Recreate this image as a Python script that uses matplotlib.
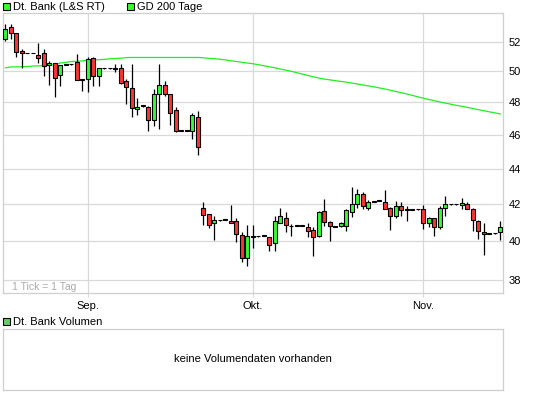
import matplotlib
matplotlib.use("Agg")
import matplotlib.pyplot as plt
import matplotlib.dates as mdates
from matplotlib.patches import Rectangle
from matplotlib.ticker import NullLocator
import numpy as np
import pandas as pd

plt.rcParams["font.family"] = ["Liberation Sans", "DejaVu Sans"]

# one candle per calendar day (weekends are the flat ones)
dates = pd.date_range("2010-08-17", "2010-11-15", freq="D")

opens = [52.21, 53.04, 52.57, 51.36, 51.22, 51.22, 51.07, 51.20, 50.42, 50.53, 49.79, 50.44, 50.46, 50.63, 49.48,
         49.48, 50.90, 49.70, 50.20, 50.20, 50.20, 50.20, 49.35, 48.94, 47.57, 47.78, 47.74, 46.93, 48.52, 49.10,
         48.51, 47.51, 46.25, 46.25, 46.21, 47.12, 41.78, 41.44, 40.96, 41.10, 41.13, 41.05, 41.05, 40.31, 39.12,
         40.22, 40.24, 40.28, 40.19, 39.87, 40.95, 41.20, 40.80, 40.80, 40.80, 40.76, 40.58, 40.28, 41.61, 41.03,
         40.76, 40.78, 40.78, 41.53, 41.97, 42.56, 41.80, 42.13, 42.17, 42.12, 41.80, 41.31, 41.90, 41.69, 41.69, 41.70,
         41.74, 40.94, 41.20, 40.73, 41.80, 41.97, 41.97, 41.96, 41.99, 41.74, 41.08, 40.46, 40.37, 40.40, 40.46]
closes = [52.90, 52.57, 51.32, 51.20, 51.22, 51.22, 50.91, 50.37, 50.53, 49.55, 50.42, 50.44, 50.46, 49.45, 49.47,
          50.84, 49.70, 50.20, 50.20, 50.20, 50.14, 49.22, 49.00, 47.68, 47.74, 47.78, 46.93, 48.52, 49.09, 48.51,
          47.36, 46.25, 46.25, 46.25, 47.20, 45.27, 41.37, 40.85, 41.10, 41.10, 41.13, 40.96, 40.37, 39.12, 40.24,
          40.20, 40.24, 40.28, 39.79, 41.05, 41.31, 40.83, 40.78, 40.80, 40.80, 40.51, 40.22, 41.58, 41.00, 40.78,
          40.76, 40.97, 41.67, 42.01, 42.56, 41.88, 42.12, 42.13, 42.17, 41.74, 41.31, 41.90, 41.67, 41.69, 41.69, 41.70,
          40.94, 41.20, 40.73, 41.80, 41.97, 41.97, 41.97, 42.06, 41.74, 41.13, 40.54, 40.35, 40.37, 40.40, 40.76]
highs = [53.24, 53.24, 52.60, 51.47, 51.24, 51.24, 51.93, 51.47, 50.71, 50.55, 50.45, 50.46, 50.48, 51.13, 49.50,
         50.93, 50.95, 50.22, 50.22, 50.22, 50.47, 50.47, 49.48, 50.47, 48.26, 47.85, 47.78, 48.83, 50.47, 49.38,
         48.55, 47.70, 46.27, 46.27, 47.33, 47.46, 42.12, 41.45, 41.31, 41.12, 41.15, 41.96, 41.20, 40.49, 40.85,
         40.87, 40.26, 40.30, 40.20, 41.31, 41.78, 41.56, 40.90, 40.82, 40.82, 40.96, 40.76, 41.60, 42.28, 41.05,
         40.78, 41.00, 41.70, 42.96, 42.84, 42.65, 42.20, 42.15, 42.20, 42.76, 41.82, 42.18, 42.12, 41.91, 41.71, 41.72,
         41.96, 41.29, 41.25, 41.90, 42.46, 41.99, 41.99, 42.30, 42.10, 41.78, 41.10, 40.94, 40.39, 40.42, 41.08]
lows = [52.04, 52.16, 50.99, 50.24, 51.20, 51.20, 50.58, 49.67, 49.10, 48.33, 49.06, 50.42, 50.44, 49.42, 48.72,
        48.67, 49.04, 49.07, 50.18, 50.18, 49.97, 49.20, 47.90, 47.12, 47.20, 47.72, 46.20, 46.53, 46.34, 48.40,
        46.59, 46.15, 46.23, 46.23, 45.74, 44.80, 40.83, 40.67, 40.06, 41.08, 41.11, 40.95, 39.96, 38.90, 38.70,
        39.64, 40.22, 40.26, 39.47, 39.47, 40.95, 40.47, 40.28, 40.78, 40.78, 40.19, 39.21, 40.19, 40.80, 40.00,
        40.74, 40.75, 40.51, 41.29, 41.76, 41.74, 41.65, 42.11, 42.14, 41.74, 40.59, 41.20, 41.35, 41.06, 41.67, 41.68,
        40.63, 40.73, 40.28, 40.63, 41.31, 41.95, 41.95, 41.74, 41.70, 40.51, 40.10, 39.26, 40.35, 40.38, 40.06]
gd200 = [50.24, 50.30, 50.30, 50.31, 50.32, 50.36, 50.37, 50.38, 50.40, 50.44, 50.56, 50.60, 50.66, 50.67, 50.70,
         50.74, 50.76, 50.78, 50.80, 50.84, 50.86, 50.88, 50.92, 50.93, 50.93, 50.93, 50.93, 50.93, 50.93, 50.93,
         50.93, 50.93, 50.93, 50.93, 50.93, 50.93, 50.91, 50.87, 50.85, 50.81, 50.77, 50.71, 50.66, 50.61, 50.56,
         50.51, 50.45, 50.38, 50.31, 50.24, 50.16, 50.08, 50.01, 49.92, 49.83, 49.74, 49.65, 49.57, 49.50, 49.45,
         49.40, 49.35, 49.30, 49.24, 49.18, 49.12, 49.06, 49.00, 48.93, 48.86, 48.78, 48.70, 48.62, 48.54, 48.45, 48.36,
         48.27, 48.19, 48.11, 48.03, 47.96, 47.89, 47.82, 47.76, 47.69, 47.62, 47.55, 47.48, 47.41, 47.35, 47.28]

price_ticks = [38, 40, 42, 44, 46, 48, 50, 52]
month_ticks = ["2010-09-01", "2010-10-01", "2010-11-01"]
month_labels = ["Sep.", "Okt.", "Nov."]

W, H = 545, 398
grid_col = "#d9d9d9"
frame_col = "#cfcfcf"
up_col = "#33ff33"
down_col = "#ff3333"

fig = plt.figure(figsize=(W / 100, H / 100), dpi=100)
fig.patch.set_facecolor("white")

# main price panel
ax = fig.add_axes([3 / W, 1 - 293 / H, 500 / W, 280 / H])
ax.set_yscale("log")
ax.set_ylim(37.35, 54.0)
x = mdates.date2num(dates)
ax.set_xlim(x[0] - 0.42, x[-1] + 0.5)

o = np.array(opens)
c = np.array(closes)
body = np.maximum(np.abs(c - o), 0.04)
colors = np.where(c >= o, up_col, down_col)

ax.plot(x, gd200, color="#22ee22", lw=0.9, zorder=1.5)
ax.vlines(x, lows, highs, color="black", lw=0.9, zorder=2)
ax.bar(x, body, bottom=np.minimum(o, c), width=0.78, color=colors,
       edgecolor="black", linewidth=0.8, zorder=3)

ax.set_yticks(price_ticks)
ax.set_yticklabels([str(t) for t in price_ticks])
ax.yaxis.set_minor_locator(NullLocator())
ax.yaxis.tick_right()
ax.set_xticks(mdates.date2num(pd.to_datetime(month_ticks)))
ax.set_xticklabels(month_labels)
ax.tick_params(axis="y", length=0, pad=4, labelsize=8)
ax.tick_params(axis="x", length=3, color=grid_col, pad=3, labelsize=8)
ax.grid(True, color=grid_col, lw=0.9)
ax.set_axisbelow(True)
for s in ax.spines.values():
    s.set_color(frame_col)
    s.set_linewidth(0.9)

ax.text(9 / 500, 6 / 280, "1 Tick = 1 Tag", transform=ax.transAxes,
        color="#aaaaaa", fontsize=7.5, va="center", ha="left")

# legend on top
def legend_box(px, py, fc, label):
    fig.add_artist(Rectangle((px / W, 1 - (py + 7) / H), 7 / W, 7 / H,
                             transform=fig.transFigure, facecolor=fc,
                             edgecolor="black", linewidth=0.8))
    fig.text((px + 10) / W, 1 - (py + 3.8) / H, label, fontsize=8,
             va="center", ha="left")

legend_box(3, 3, up_col, "Dt. Bank (L&S RT)")
legend_box(127, 3, up_col, "GD 200 Tage")
legend_box(3, 318, "#66cc66", "Dt. Bank Volumen")

# empty volume panel
vax = fig.add_axes([3 / W, 1 - 390 / H, 500 / W, 61 / H])
vax.set_xticks([])
vax.set_yticks([])
for s in vax.spines.values():
    s.set_color(frame_col)
    s.set_linewidth(0.9)
vax.text(0.5, 0.5, "keine Volumendaten vorhanden", transform=vax.transAxes,
         ha="center", va="center", fontsize=8)

fig.savefig("out.png", dpi=100)
